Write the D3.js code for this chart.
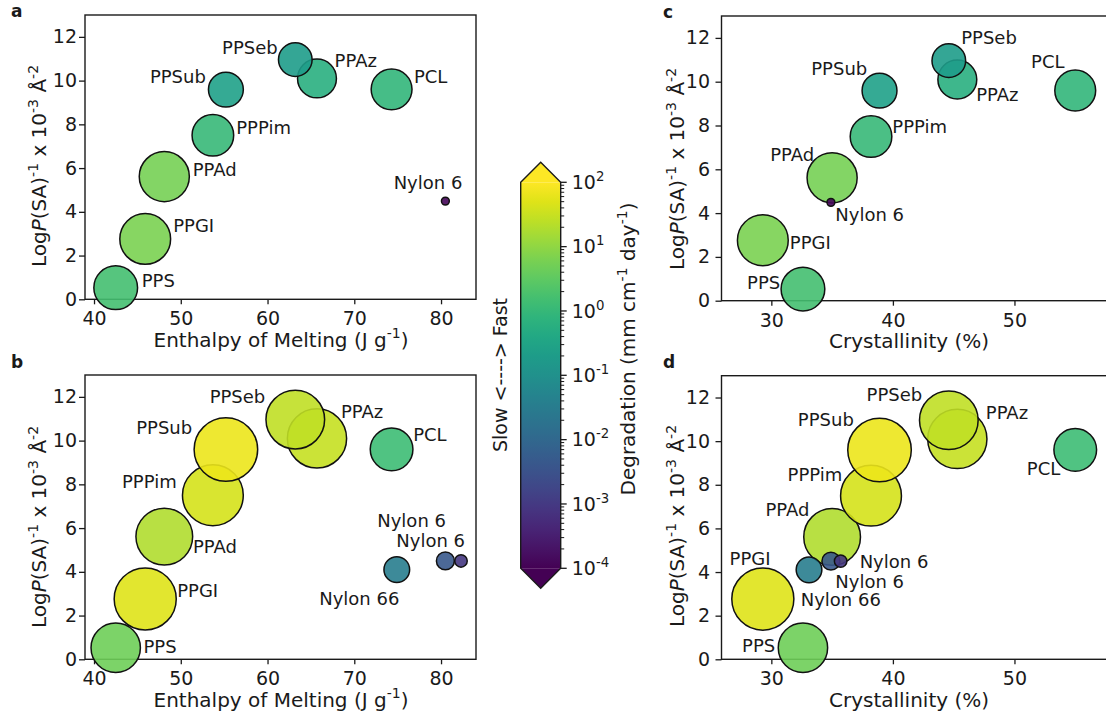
<!DOCTYPE html>
<html><head><meta charset="utf-8">
<script src="https://cdn.jsdelivr.net/npm/d3@7"></script>
<style>
html,body{margin:0;padding:0;background:#fff;overflow:hidden}
svg text{font-family:"DejaVu Sans",Verdana,sans-serif;fill:#1a1a1a}
</style></head><body>
<svg id="fig" width="1106" height="718"></svg>
<script>
// ---- data: first degradation condition (panels a, c) ----
const polymersA = ["PPS","PPGI","PPAd","PPPim","PPSub","PPAz","PPSeb","PCL","Nylon 6"];
const enthalpyA = [42.5,45.9,48.1,53.7,55.2,65.7,63.2,74.3,80.5];
const crystallinityA = [32.6,29.3,35.0,38.2,38.9,45.3,44.6,55.0,34.9];
const logPA = [0.53,2.76,5.61,7.5,9.59,10.1,10.96,9.6,4.49];
const degradationA = [1.6,6.3,5.5,1.05,0.26,0.6,0.2,0.9,0.00013];

// ---- data: second degradation condition (panels b, d) ----
const polymersB = ["PPS","PPGI","PPAd","PPPim","PPSub","PPAz","PPSeb","PCL","Nylon 66","Nylon 6","Nylon 6"];
const enthalpyB = [42.5,45.9,48.1,53.7,55.2,65.7,63.2,74.3,74.9,80.5,82.3];
const crystallinityB = [32.6,29.3,35.0,38.2,38.9,45.3,44.6,55.0,33.1,34.9,35.7];
const logPB = [0.53,2.76,5.61,7.5,9.59,10.1,10.96,9.6,4.1,4.5,4.5];
const degradationB = [4.8,50,19,40,65,30,27,1.3,0.033,0.0046,0.0009];

// ---- tick values ----
const yTicks = [0,2,4,6,8,10,12];
const enthalpyTicks = [40,50,60,70,80];
const crystallinityTicks = [30,40,50];
const colorbarTicks = [1e-4,1e-3,1e-2,1e-1,1,10,100];
const colorbarExponents = ["-4","-3","-2","-1","0","1","2"];

// ---- shared encodings ----
const rateToUnit = d3.scaleLog().domain([1e-4,1e2]).range([0,1]).clamp(true);
const colorOf = v => d3.interpolateViridis(rateToUnit(v));
const radius = d3.scalePow().exponent(1.35).domain([0,1]).range([3.8,33]);
const radiusOf = v => radius(rateToUnit(v));

const svg = d3.select("#fig");
const INK = "#1a1a1a";

// text with superscripts / italics
function rich(sel, parts, fs) {
  let shift = 0;
  parts.forEach(p => {
    const ts = sel.append("tspan").text(p.t);
    const target = p.sup ? -0.42*fs : 0;
    if (target !== shift) { ts.attr("dy", target - shift); shift = target; }
    if (p.sup) ts.attr("font-size", fs*0.7);
    if (p.it) ts.attr("font-style", "italic");
  });
}

const yTitleParts = [{t:"Log"},{t:"P",it:true},{t:"(SA)"},{t:"-1",sup:true},{t:" x 10"},{t:"-3",sup:true},{t:" Å"},{t:"-2",sup:true}];
const enthalpyTitle = [{t:"Enthalpy of Melting (J g"},{t:"-1",sup:true},{t:")"}];
const crystTitle = [{t:"Crystallinity (%)"}];

// label placement per panel: [anchor, dx, dy] in px from the bubble centre
const labelsA = [["start",26,-0.6],["start",28,-6.6],["start",28.4,-1],["start",23.4,-1.7],["end",-20,-6.6],["start",17.6,-11],["end",-17.6,-6],["start",22.3,-6],["end",17,-11.7]];
const labelsB = [["start",27.8,5.4],["start",32,-1.7],["start",28.7,16.3],["end",-36.2,-7.7],["end",-33.7,-15.7],["start",24,-20.7],["end",-30,-17],["start",21.6,-8.7],["middle",-37.5,35.2],["end",0.6,-34.3],["end",4,-14.3]];
const labelsC = [["end",-22.7,0],["start",27,8.5],["end",-18,-17],["start",21.3,-3.7],["end",-12.3,-15.4],["start",18.8,21.3],["start",12.4,-16.4],["end",-10.7,-22.2],["start",4.4,18.4]];
const labelsD = [["end",-27.7,4.7],["end",7.7,-34.5],["end",-22.7,-21.3],["end",-28.7,-14.3],["end",-25.7,-23.7],["start",28.5,-19.6],["end",-26.6,-18.9],["end",-15,25],["start",-8.3,36.5],["start",4.4,27.2],["start",19,6.8]];

const panels = [
  {letter:"a", lx:11, ly:17, names:polymersA, xs:enthalpyA, ys:logPA, rates:degradationA, labels:labelsA,
   left:85, right:476, top:15, bottom:299.3, xDomain:[38.96,84.03], xTicks:enthalpyTicks,
   xTitle:enthalpyTitle, xTitleX:281, xTitleY:346.5, yTitleX:46, yTitleY:166, labelEnd:77},
  {letter:"b", lx:11, ly:368, names:polymersB, xs:enthalpyB, ys:logPB, rates:degradationB, labels:labelsB,
   left:85, right:476, top:375, bottom:659.3, xDomain:[38.96,84.03], xTicks:enthalpyTicks,
   xTitle:enthalpyTitle, xTitleX:281, xTitleY:706.5, yTitleX:46, yTitleY:527, labelEnd:77},
  {letter:"c", lx:663, ly:18, names:polymersA, xs:crystallinityA, ys:logPA, rates:degradationA, labels:labelsC,
   left:721.5, right:1119, top:16, bottom:300.7, xDomain:[25.9,58.6], xTicks:crystallinityTicks,
   xTitle:crystTitle, xTitleX:909, xTitleY:348, yTitleX:684, yTitleY:169, labelEnd:710},
  {letter:"d", lx:663, ly:368, names:polymersB, xs:crystallinityB, ys:logPB, rates:degradationB, labels:labelsD,
   left:721.5, right:1119, top:375.7, bottom:659.3, xDomain:[25.9,58.6], xTicks:crystallinityTicks,
   xTitle:crystTitle, xTitleX:909, xTitleY:706.5, yTitleX:684, yTitleY:526, labelEnd:710}
];

panels.forEach(p => {
  const g = svg.append("g");
  const x = d3.scaleLinear().domain(p.xDomain).range([p.left, p.right]);
  const y = d3.scaleLinear().domain([0,13]).range([p.bottom, p.top]);

  // x axis
  const xa = g.append("g").attr("transform", `translate(0,${p.bottom})`)
    .call(d3.axisBottom(x).tickValues(p.xTicks).tickSize(5).tickPadding(7.5));
  // y axis
  const ya = g.append("g").attr("transform", `translate(${p.left},0)`)
    .call(d3.axisLeft(y).tickValues(yTicks).tickSize(6).tickPadding(p.left - 6 - p.labelEnd));
  [xa, ya].forEach(a => {
    a.select(".domain").remove();
    a.selectAll(".tick line").attr("stroke", INK).attr("stroke-width", 1.3);
    a.selectAll(".tick text").attr("font-size", 19).attr("fill", INK)
      .style("font-family", '"DejaVu Sans",Verdana,sans-serif');
  });

  // frame
  g.append("rect").attr("x", p.left).attr("y", p.top)
    .attr("width", p.right - p.left).attr("height", p.bottom - p.top)
    .attr("fill", "none").attr("stroke", INK).attr("stroke-width", 1.4);

  // bubbles
  const idx = d3.range(p.names.length);
  g.append("g").selectAll("circle").data(idx).join("circle")
    .attr("cx", i => x(p.xs[i])).attr("cy", i => y(p.ys[i]))
    .attr("r", i => radiusOf(p.rates[i]))
    .attr("fill", i => colorOf(p.rates[i])).attr("fill-opacity", 0.9)
    .attr("stroke", "#111").attr("stroke-width", 1.5);

  // bubble labels
  g.append("g").selectAll("text").data(idx).join("text")
    .attr("x", i => x(p.xs[i]) + p.labels[i][1])
    .attr("y", i => y(p.ys[i]) + p.labels[i][2])
    .attr("text-anchor", i => p.labels[i][0])
    .attr("font-size", 18)
    .text(i => p.names[i]);

  // axis titles
  const xt = g.append("text").attr("x", p.xTitleX).attr("y", p.xTitleY)
    .attr("text-anchor", "middle").attr("font-size", 20);
  rich(xt, p.xTitle, 20);
  const yt = g.append("text").attr("transform", `translate(${p.yTitleX},${p.yTitleY}) rotate(-90)`)
    .attr("text-anchor", "middle").attr("font-size", 20);
  rich(yt, yTitleParts, 20);

  // panel letter
  g.append("text").attr("x", p.lx).attr("y", p.ly).attr("font-size", 17)
    .attr("font-weight", "bold").text(p.letter);
});

// ---- colour bar ----
const cb = {x0:520.7, x1:560.7, top:182.3, bottom:568.3, ext:20};
const cy = d3.scaleLog().domain([1e-4,1e2]).range([cb.bottom, cb.top]);
const defs = svg.append("defs");
const grad = defs.append("linearGradient").attr("id","viridisGrad")
  .attr("x1",0).attr("y1",1).attr("x2",0).attr("y2",0);
d3.range(0, 1.0001, 0.05).forEach(t => {
  grad.append("stop").attr("offset", t).attr("stop-color", d3.interpolateViridis(t));
});
const cbg = svg.append("g");
cbg.append("rect").attr("x", cb.x0).attr("y", cb.top).attr("width", cb.x1-cb.x0)
  .attr("height", cb.bottom-cb.top).attr("fill", "url(#viridisGrad)");
const xm = (cb.x0+cb.x1)/2;
cbg.append("path").attr("d", `M${cb.x0},${cb.top}L${xm},${cb.top-cb.ext}L${cb.x1},${cb.top}Z`)
  .attr("fill", d3.interpolateViridis(1));
cbg.append("path").attr("d", `M${cb.x0},${cb.bottom}L${xm},${cb.bottom+cb.ext}L${cb.x1},${cb.bottom}Z`)
  .attr("fill", d3.interpolateViridis(0));
cbg.append("path")
  .attr("d", `M${cb.x0},${cb.top}L${xm},${cb.top-cb.ext}L${cb.x1},${cb.top}L${cb.x1},${cb.bottom}L${xm},${cb.bottom+cb.ext}L${cb.x0},${cb.bottom}Z`)
  .attr("fill","none").attr("stroke", INK).attr("stroke-width", 1.4).attr("stroke-linejoin","miter");

// minor ticks
const minor = [];
colorbarTicks.slice(0,-1).forEach(d => { for (let k=2;k<=9;k++) minor.push(d*k); });
cbg.selectAll("line.minor").data(minor).join("line").attr("class","minor")
  .attr("x1", cb.x1).attr("x2", cb.x1+3.5).attr("y1", d=>cy(d)).attr("y2", d=>cy(d))
  .attr("stroke", INK).attr("stroke-width", 1);
cbg.selectAll("line.major").data(colorbarTicks).join("line").attr("class","major")
  .attr("x1", cb.x1).attr("x2", cb.x1+6).attr("y1", d=>cy(d)).attr("y2", d=>cy(d))
  .attr("stroke", INK).attr("stroke-width", 1.3);
colorbarTicks.forEach((d,i) => {
  const t = cbg.append("text").attr("x", cb.x1+11).attr("y", cy(d)+6.8).attr("font-size", 19);
  rich(t, [{t:"10"},{t:colorbarExponents[i],sup:true}], 19);
});

// colour bar titles
const dl = cbg.append("text").attr("transform", "translate(635,349) rotate(-90)")
  .attr("text-anchor","middle").attr("font-size", 20);
rich(dl, [{t:"Degradation (mm cm"},{t:"-1",sup:true},{t:" day"},{t:"-1",sup:true},{t:")"}], 20);
cbg.append("text").attr("transform", "translate(507,375) rotate(-90)")
  .attr("text-anchor","middle").attr("font-size", 19).text("Slow <----> Fast");
</script>
</body></html>
